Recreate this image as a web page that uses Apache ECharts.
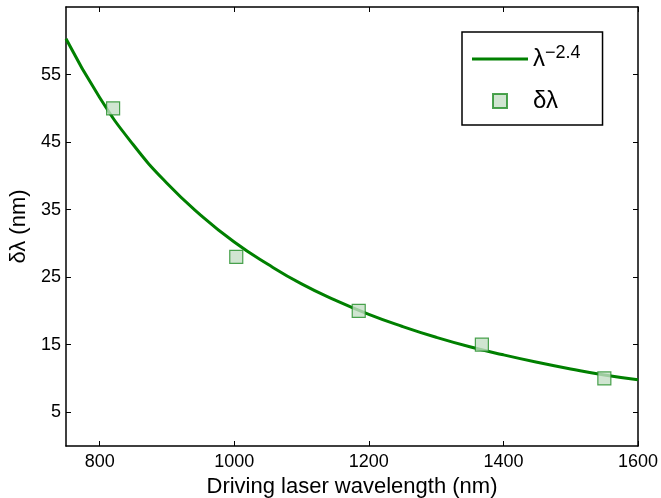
<!DOCTYPE html>
<html>
<head>
<meta charset="utf-8">
<script src="https://cdn.jsdelivr.net/npm/echarts@6/dist/echarts.min.js"></script>
<style>
html, body { margin: 0; padding: 0; background: #fff; }
#chart { width: 661px; height: 498px; }
</style>
</head>
<body>
<div id="chart"></div>
<script>
// measured points (wavelength nm, delta lambda nm)
var wavelengths = [820, 1003, 1185, 1368, 1550];
var deltaLambda = [50, 28, 20, 15, 10];

// fitted curve, every 50 nm
var fitX = [750, 800, 850, 900, 950, 1000, 1050, 1100, 1150, 1200, 1250, 1300, 1350, 1400, 1450, 1500, 1550, 1600];
var fitY = [60.3, 51.6, 44.6, 38.9, 34.2, 30.2, 26.9, 24.0, 21.6, 19.5, 17.7, 16.1, 14.7, 13.5, 12.4, 11.4, 10.5, 9.8];

var xTicks = [800, 1000, 1200, 1400, 1600];
var yTicks = [5, 15, 25, 35, 45, 55];

var font = '"Liberation Sans", Arial, Helvetica, sans-serif';

var chart = echarts.init(document.getElementById('chart'));

function pairs(xs, ys) {
    return xs.map(function (x, i) { return [x, ys[i]]; });
}

function plain(v) { return String(v); }

var axisCommon = {
    type: 'value',
    splitLine: { show: false },
    axisLine: { show: true, onZero: false, lineStyle: { color: '#000', width: 1.5 } },
    axisTick: { show: true, inside: true, length: 5, lineStyle: { color: '#000', width: 1 } }
};

var option = {
    backgroundColor: '#fff',
    animation: false,
    textStyle: { fontFamily: font },
    grid: { left: 66, right: 23, top: 7, bottom: 52, outerBoundsMode: 'none', containLabel: false },
    xAxis: [
        Object.assign({}, axisCommon, {
            min: 750, max: 1600,
            position: 'bottom',
            name: 'Driving laser wavelength (nm)',
            nameLocation: 'middle',
            nameGap: 29,
            nameTextStyle: { fontSize: 22, color: '#000', fontFamily: font },
            axisTick: Object.assign({}, axisCommon.axisTick, { customValues: xTicks }),
            axisLabel: { customValues: xTicks, formatter: plain, margin: 7, fontSize: 18, color: '#000', fontFamily: font }
        }),
        Object.assign({}, axisCommon, {
            min: 750, max: 1600,
            position: 'top',
            axisTick: Object.assign({}, axisCommon.axisTick, { customValues: xTicks }),
            axisLabel: { show: false }
        })
    ],
    yAxis: [
        Object.assign({}, axisCommon, {
            min: 0, max: 65,
            position: 'left',
            name: 'δλ (nm)',
            nameLocation: 'middle',
            nameGap: 33,
            nameTextStyle: { fontSize: 22, color: '#000', fontFamily: font },
            axisTick: Object.assign({}, axisCommon.axisTick, { customValues: yTicks }),
            axisLabel: { customValues: yTicks, formatter: plain, margin: 5, fontSize: 18, color: '#000', fontFamily: font }
        }),
        Object.assign({}, axisCommon, {
            min: 0, max: 65,
            position: 'right',
            axisTick: Object.assign({}, axisCommon.axisTick, { customValues: yTicks }),
            axisLabel: { show: false }
        })
    ],
    legend: {
        orient: 'vertical',
        left: 462,
        top: 32,
        padding: [12, 22, 12, 10],
        itemGap: 18,
        itemWidth: 56,
        itemHeight: 14,
        backgroundColor: '#fff',
        borderColor: '#000',
        borderWidth: 1.5,
        borderRadius: 0,
        textStyle: {
            fontFamily: font,
            color: '#000',
            fontSize: 22,
            rich: {
                b: { fontSize: 24, color: '#000', fontFamily: font },
                s: { fontSize: 18, color: '#000', fontFamily: font, verticalAlign: 'top', padding: [0, 0, 12, 0] }
            }
        },
        formatter: function (name) {
            return name === 'fit' ? '{b|λ}{s|−2.4}' : '{b|δλ}';
        },
        data: [
            { name: 'fit', icon: 'path://M0,5.5 L56,5.5 L56,8.5 L0,8.5 Z' },
            { name: 'data', icon: 'path://M21,0 L35,0 L35,14 L21,14 Z' }
        ]
    },
    series: [
        {
            name: 'fit',
            type: 'line',
            smooth: true,
            showSymbol: false,
            symbol: 'none',
            data: pairs(fitX, fitY),
            lineStyle: { color: '#008000', width: 3 },
            itemStyle: { color: '#008000' },
            z: 2
        },
        {
            name: 'data',
            type: 'scatter',
            symbol: 'rect',
            symbolSize: 13,
            data: pairs(wavelengths, deltaLambda),
            itemStyle: { color: '#c4dfc6', borderColor: '#1f8c24', borderWidth: 1.2 },
            z: 3
        }
    ]
};

chart.setOption(option);
</script>
</body>
</html>
